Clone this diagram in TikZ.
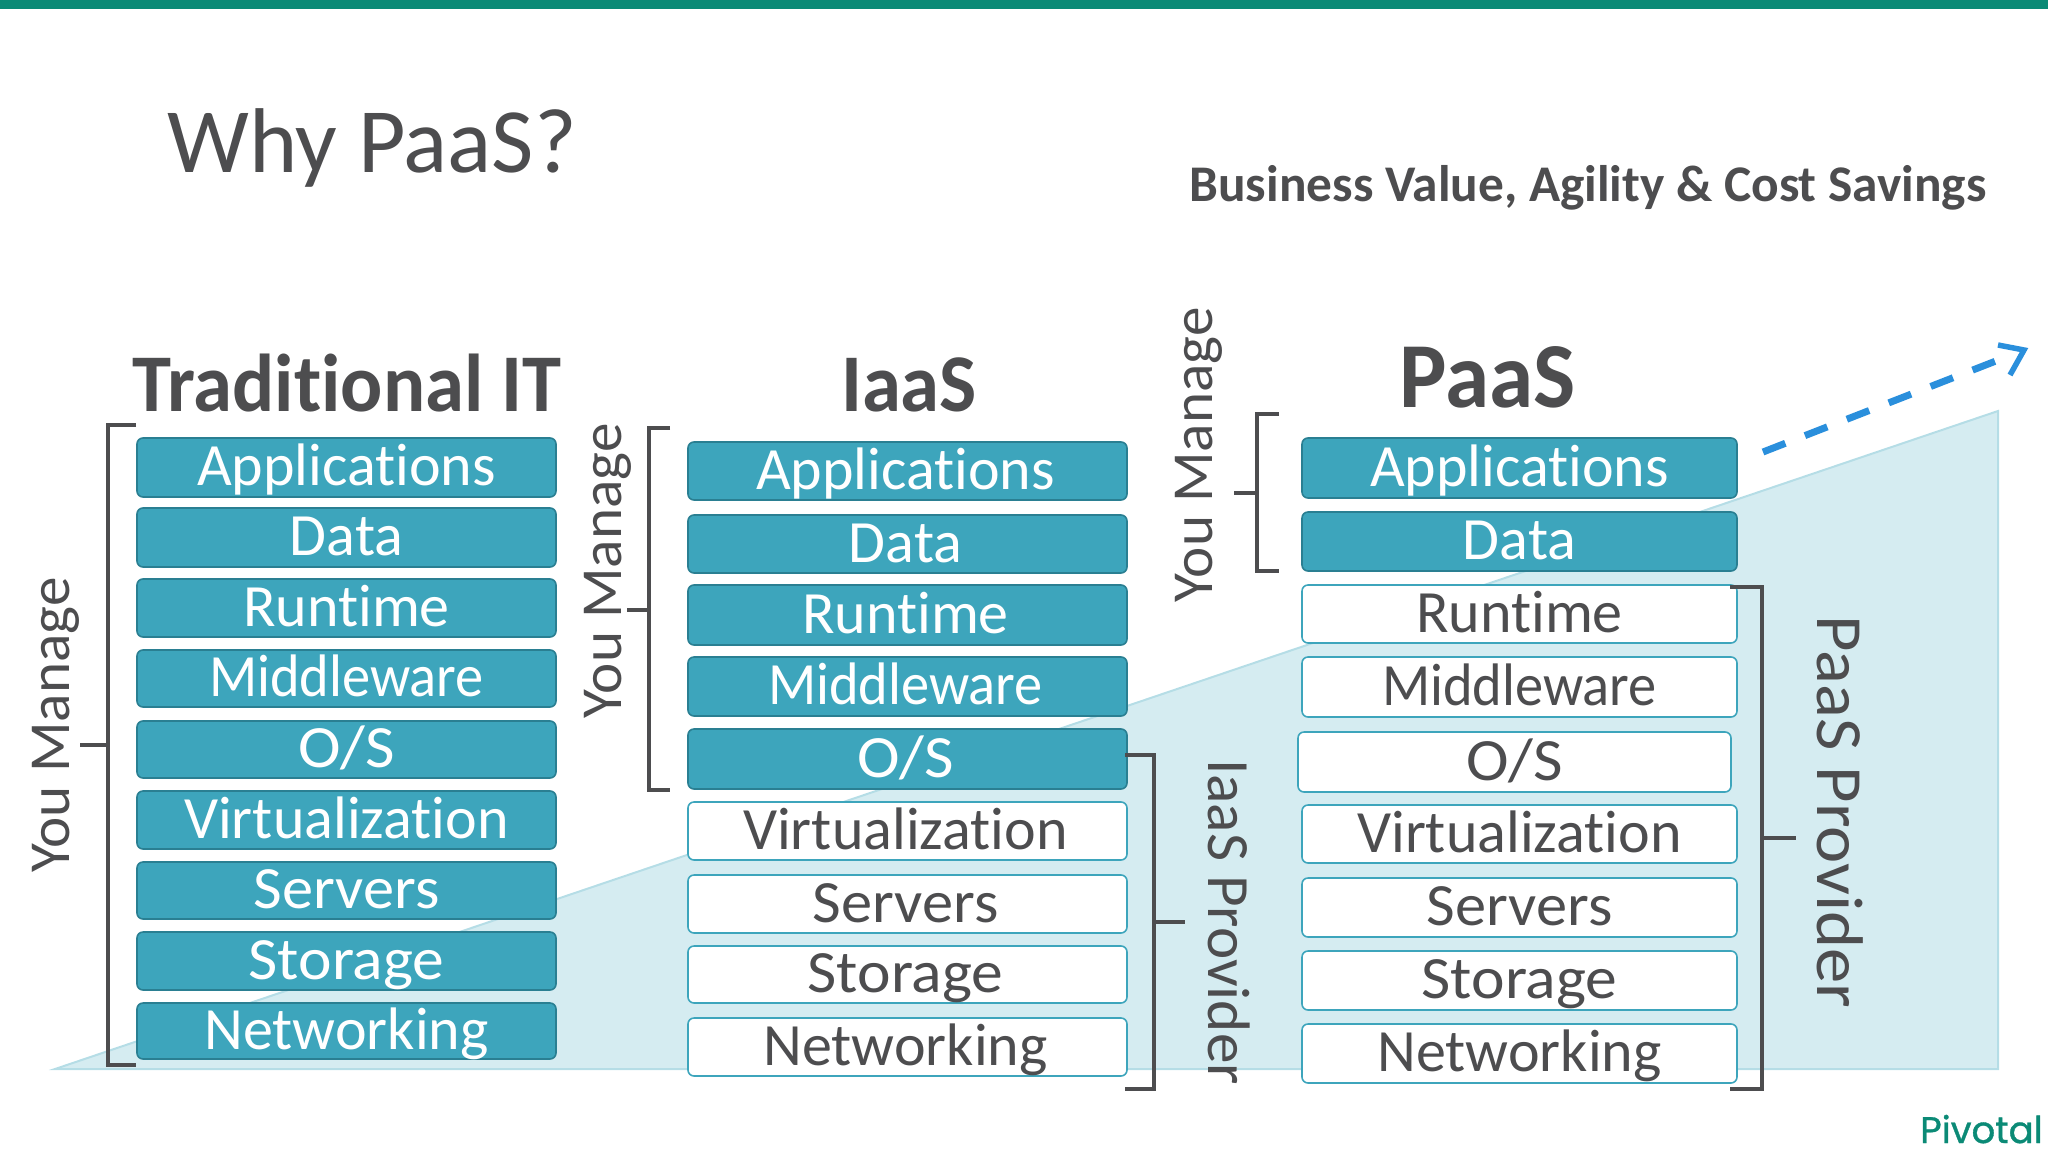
\documentclass[tikz,border=0pt]{standalone}
\usepackage{fontspec}
\usetikzlibrary{calc}
\setmainfont[Ligatures=NoCommon]{Carlito}
\newfontfamily\boxf[Ligatures=NoCommon]{Carlito}
\newfontfamily\headf[FakeStretch=0.96,Ligatures=NoCommon]{Carlito}
\newfontfamily\sidef[FakeStretch=1.02,Ligatures=NoCommon]{Carlito}
\newfontfamily\sideg[FakeStretch=1.07,Ligatures=NoCommon]{Carlito}
\newfontfamily\logof[FakeBold=1]{Poppins}
\definecolor{inkc}{HTML}{4D4D4F}
\definecolor{tealc}{HTML}{3DA5BC}
\definecolor{teald}{HTML}{2A7F92}
\definecolor{paleb}{HTML}{D5ECF1}
\definecolor{palee}{HTML}{B5DDE6}
\definecolor{barc}{HTML}{0B8A76}
\definecolor{arrc}{HTML}{2A8FDC}
\tikzset{
 layer/.style={rounded corners=6pt,inner sep=0pt,font=\boxf\fontsize{60}{60}\selectfont,text height=36pt,text depth=0pt},
 mine/.style={layer,draw=teald,line width=1.6pt,fill=tealc,text=white},
 theirs/.style={layer,draw=tealc,line width=1.6pt,fill=white,text=inkc},
 brace/.style={draw=inkc,line width=3.5pt},
 side/.style={font=\sidef\fontsize{58}{58}\selectfont,text=inkc,inner sep=0pt},
 head/.style={font=\headf\bfseries\fontsize{82}{82}\selectfont,text=inkc,inner sep=0pt},
}
\newcommand{\lay}[7]{\node[#6,minimum width={#4-#2},minimum height={#5-#3},anchor=center] (#1) at ({(#2+#4)/2},{(#3+#5)/2}) {#7};}
\newcommand{\Mw}{\scalebox{0.94}[1]{Middleware}}
\newcommand{\Os}{\scalebox{1.07}[1]{O/S}}
\newcommand{\St}{\scalebox{1.06}[1]{Storage}}
\newcommand{\Sv}{\scalebox{1.04}[1]{Servers}}
\newcommand{\nudge}[1]{#1\kern4pt}
\begin{document}
\begin{tikzpicture}[x=1pt,y=-1pt]
\useasboundingbox (0,0) rectangle (2048,1152);
\fill[barc] (0,0) rectangle (2048,9);
\draw[fill=paleb,draw=palee,line width=2pt] (55,1069) -- (1998,411) -- (1998,1069) -- cycle;
% titles
\node[font=\fontsize{92}{92}\selectfont,text=inkc,anchor=base west,inner sep=0pt] (why) at (167,172) {Why PaaS?};
\node[font=\bfseries\fontsize{51.4}{52}\selectfont,text=inkc,inner sep=0pt,anchor=base] (biz) at (1588,201) {Business Value, Agility \& Cost Savings};
\node[head,anchor=base] (h1) at (347,411) {Traditional IT};
\node[head,anchor=base] (h2) at (909,411) {IaaS};
\node[head,anchor=base,font=\headf\bfseries\fontsize{93}{93}\selectfont] (h3) at (1488,407) {PaaS};
% column 1
\lay{a1}{137}{438}{556}{497}{mine}{Applications}
\lay{a2}{137}{508}{556}{567}{mine}{Data}
\lay{a3}{137}{579}{556}{637}{mine}{Runtime}
\lay{a4}{137}{650}{556}{707}{mine}{\Mw}
\lay{a5}{137}{721}{556}{778}{mine}{\Os}
\lay{a6}{137}{791}{556}{849}{mine}{Virtualization}
\lay{a7}{137}{862}{556}{919}{mine}{\Sv}
\lay{a8}{137}{932}{556}{990}{mine}{\St}
\lay{a9}{137}{1003}{556}{1059}{mine}{Networking}
% column 2
\lay{b1}{688}{442}{1127}{500}{mine}{\nudge{Applications}}
\lay{b2}{688}{515}{1127}{573}{mine}{\nudge{Data}}
\lay{b3}{688}{585}{1127}{645}{mine}{\nudge{Runtime}}
\lay{b4}{688}{657}{1127}{716}{mine}{\nudge{\Mw}}
\lay{b5}{688}{729}{1127}{789}{mine}{\nudge{\Os}}
\lay{b6}{688}{802}{1127}{860}{theirs}{\nudge{Virtualization}}
\lay{b7}{688}{875}{1127}{933}{theirs}{\nudge{\Sv}}
\lay{b8}{688}{946}{1127}{1003}{theirs}{\nudge{\St}}
\lay{b9}{688}{1018}{1127}{1076}{theirs}{\nudge{Networking}}
% column 3
\lay{c1}{1302}{438}{1737}{498}{mine}{Applications}
\lay{c2}{1302}{512}{1737}{571}{mine}{Data}
\lay{c3}{1302}{585}{1737}{643}{theirs}{Runtime}
\lay{c4}{1302}{657}{1737}{717}{theirs}{\Mw}
\lay{c5}{1298}{732}{1731}{792}{theirs}{\Os}
\lay{c6}{1302}{805}{1737}{863}{theirs}{Virtualization}
\lay{c7}{1302}{878}{1737}{937}{theirs}{\Sv}
\lay{c8}{1302}{951}{1737}{1010}{theirs}{\St}
\lay{c9}{1302}{1024}{1737}{1083}{theirs}{Networking}
% side labels
\node[side,rotate=90] (m1) at (56,725) {You Manage};
\node[side,rotate=90] (m2) at (608,571) {You Manage};
\node[side,rotate=90] (m3) at (1199,455) {You Manage};
\node[side,rotate=-90,font=\sidef\fontsize{60}{60}\selectfont] (p2) at (1229,922) {IaaS Provider};
\node[side,rotate=-90,font=\sideg\fontsize{66}{66}\selectfont] (p3) at (1840,812) {PaaS Provider};
% brackets
\coordinate (k1a) at (136,425); \coordinate (k1b) at (108,425); \coordinate (k1c) at (108,1065); \coordinate (k1d) at (136,1065); \coordinate (k1s) at (108,745); \coordinate (k1t) at (80,745);
\draw[brace] (k1a) -- (k1b) -- (k1c) -- (k1d); \draw[brace] (k1s) -- (k1t);
\coordinate (k2a) at (670,428); \coordinate (k2b) at (649,428); \coordinate (k2c) at (649,790); \coordinate (k2d) at (670,790); \coordinate (k2s) at (649,610); \coordinate (k2t) at (627,610);
\draw[brace] (k2a) -- (k2b) -- (k2c) -- (k2d); \draw[brace] (k2s) -- (k2t);
\coordinate (k3a) at (1279,414); \coordinate (k3b) at (1257,414); \coordinate (k3c) at (1257,571); \coordinate (k3d) at (1279,571); \coordinate (k3s) at (1257,493); \coordinate (k3t) at (1234,493);
\draw[brace] (k3a) -- (k3b) -- (k3c) -- (k3d); \draw[brace] (k3s) -- (k3t);
\coordinate (k4a) at (1125,755); \coordinate (k4b) at (1154,755); \coordinate (k4c) at (1154,1089); \coordinate (k4d) at (1125,1089); \coordinate (k4s) at (1154,922); \coordinate (k4t) at (1185,922);
\draw[brace] (k4a) -- (k4b) -- (k4c) -- (k4d); \draw[brace] (k4s) -- (k4t);
\coordinate (k5a) at (1730,587); \coordinate (k5b) at (1762,587); \coordinate (k5c) at (1762,1089); \coordinate (k5d) at (1730,1089); \coordinate (k5s) at (1762,838); \coordinate (k5t) at (1796,838);
\draw[brace] (k5a) -- (k5b) -- (k5c) -- (k5d); \draw[brace] (k5s) -- (k5t);
% arrow
\coordinate (s) at (1763,452); \coordinate (e) at (2024,350);
\draw[arrc,line width=7pt,dash pattern=on 24pt off 21pt] (s) -- ($(s)!0.96!(e)$);
\draw[arrc,line width=5.5pt] (1998,345) -- (e) -- (2010,375);
\node[font=\logof\fontsize{37}{37}\selectfont,text=barc,anchor=base east,inner sep=0pt] (piv) at (2043,1143) {Pivotal};
\end{tikzpicture}
\end{document}
